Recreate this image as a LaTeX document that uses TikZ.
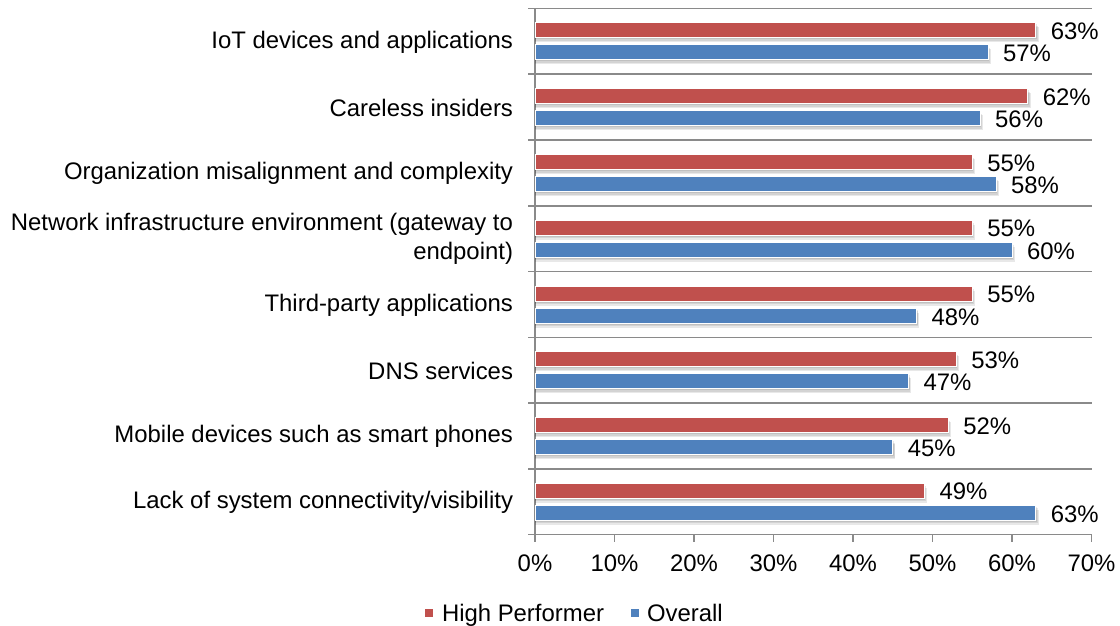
\documentclass[tikz,border=0pt]{standalone}
\usepackage{fontspec}
\setmainfont{Liberation Sans}
\definecolor{hpcol}{HTML}{C0504D}
\definecolor{ovcol}{HTML}{4F81BD}
\definecolor{gridcol}{HTML}{8A8A8A}
\begin{document}
\begin{tikzpicture}[x=1pt,y=-1pt,
  every node/.style={inner sep=0pt,outer sep=0pt,font=\fontsize{23.9}{29}\selectfont,text=black},
  gridline/.style={draw=gridcol,line width=1.5pt},
  barshadow/.style={fill=black,fill opacity=0.09,draw=none},
  hpbar/.style={fill=hpcol,draw=white,line width=1pt},
  ovbar/.style={fill=ovcol,draw=white,line width=1pt},
  catlabel/.style={anchor=east,align=right},
  vallabel/.style={anchor=base west},
  ticklabel/.style={anchor=base},
  legsq/.style={minimum width=8pt,minimum height=8pt,draw=none}]
\useasboundingbox (0,0) rectangle (1120,626);
% gridlines
\foreach \i in {0,...,8}{
  \draw[gridline] (528,{8.5+65.75*\i}) -- (1092,{8.5+65.75*\i});
}
% vertical axis
\draw[gridline] (535,8.5) -- (535,534.5);
% bottom ticks and labels
\foreach \k in {0,...,7}{
  \draw[gridline] ({535+79.5*\k},534.5) -- ++(0,7);
  \pgfmathtruncatemacro{\pc}{10*\k}
  \node[ticklabel] (tick\k) at ({535+79.5*\k},571) {\pc\%};
}
% bars
\foreach \i/\nm/\a/\b in {
  0/{IoT devices and applications}/63/57,
  1/{Careless insiders}/62/56,
  2/{Organization misalignment and complexity}/55/58,
  3/{Network infrastructure environment (gateway to\\endpoint)}/55/60,
  4/{Third-party applications}/55/48,
  5/{DNS services}/53/47,
  6/{Mobile devices such as smart phones}/52/45,
  7/{Lack of system connectivity/visibility}/49/63}{
  \pgfmathsetmacro{\top}{8.5+65.75*\i}
  \pgfmathsetmacro{\xa}{535+7.95*\a}
  \pgfmathsetmacro{\xb}{535+7.95*\b}
  % shadows
  \foreach \d in {1.5,3,4.5}{
    \fill[barshadow] (535,{\top+14.5+\d}) rectangle ({\xa+\d*0.6},{\top+29.5+\d});
    \fill[barshadow] (535,{\top+36.5+\d}) rectangle ({\xb+\d*0.6},{\top+51.5+\d});
  }
  \filldraw[hpbar] (535.75,{\top+14.5}) rectangle (\xa,{\top+29.5});
  \filldraw[ovbar] (535.75,{\top+36.5}) rectangle (\xb,{\top+51.5});
  \node[vallabel] (hp\i) at ({\xa+15},{\top+31}) {\a\%};
  \node[vallabel] (ov\i) at ({\xb+15},{\top+53.5}) {\b\%};
  \node[catlabel] (cat\i) at (513,{\top+33.5}) {\nm};
}
% legend
\node[legsq,fill=hpcol] (leghpsq) at (429,613) {};
\node[anchor=base west] (leghp) at (442,621) {High Performer};
\node[legsq,fill=ovcol] (legovsq) at (635,613) {};
\node[anchor=base west] (legov) at (647,621) {Overall};
\end{tikzpicture}
\end{document}
